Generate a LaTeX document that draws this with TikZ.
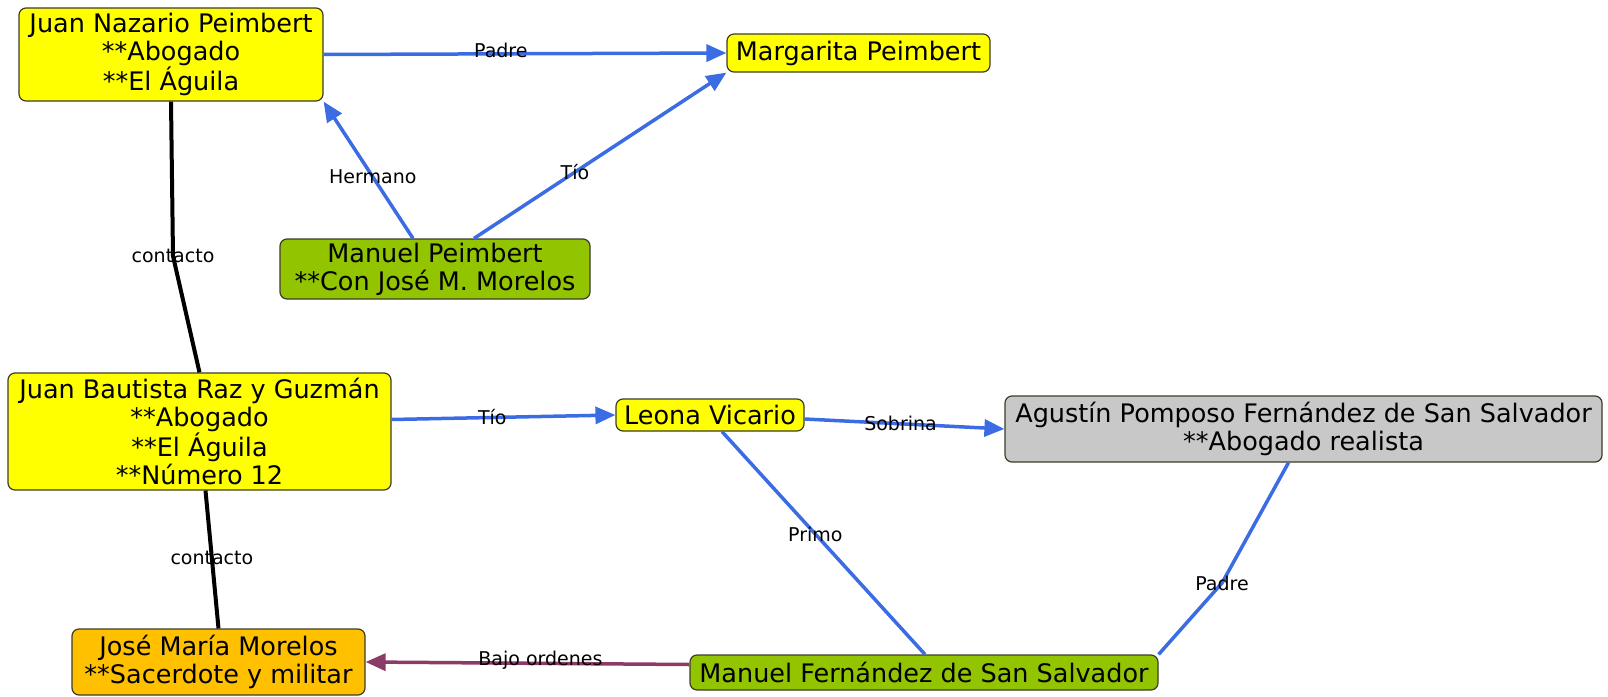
\documentclass[tikz,border=0pt]{standalone}
\usepackage{fontspec}
\setmainfont{DejaVu Sans}
\usetikzlibrary{arrows.meta}
\definecolor{relblue}{RGB}{59,108,228}
\definecolor{relmaroon}{RGB}{139,59,104}
\definecolor{boxyellow}{RGB}{255,255,0}
\definecolor{boxgreen}{RGB}{146,196,0}
\definecolor{boxorange}{RGB}{255,192,0}
\definecolor{boxgray}{RGB}{200,200,200}
\definecolor{boxline}{RGB}{60,60,40}
\tikzset{
  person/.style={draw=boxline, line width=1.2pt, rounded corners=7pt, inner sep=0pt,
    align=center, font=\fontsize{25.5}{28}\selectfont},
  ybox/.style={person, fill=boxyellow},
  gbox/.style={person, fill=boxgreen},
  obox/.style={person, fill=boxorange},
  greybox/.style={person, fill=boxgray},
  tip/.style={-{Triangle[length=20pt,width=17pt]}},
  rel/.style={draw=relblue, line width=3.5pt, line join=round},
  relarrow/.style={rel, tip},
  contact/.style={draw=black, line width=4pt, line join=round},
  order/.style={draw=relmaroon, line width=3.5pt, tip},
  lbl/.style={font=\fontsize{19}{22}\selectfont, inner sep=1pt, text=black}
}
\begin{document}
\begin{tikzpicture}[x=1pt,y=-1pt]
\useasboundingbox (0,0) rectangle (1608,696);

% people
\node[ybox, minimum width=304pt, minimum height=93pt] (jnp) at (171,54.5)
  {Juan Nazario Peimbert\\**Abogado\\**El Águila};
\node[ybox, minimum width=263pt, minimum height=38pt] (mar) at (858.5,53)
  {Margarita Peimbert};
\node[gbox, minimum width=310pt, minimum height=60pt] (mp) at (435,269)
  {Manuel Peimbert\\**Con José M. Morelos};
\node[ybox, minimum width=383pt, minimum height=117pt] (jb) at (199.5,431.5)
  {Juan Bautista Raz y Guzmán\\**Abogado\\**El Águila\\**Número 12};
\node[ybox, minimum width=188pt, minimum height=32pt] (lv) at (710,415)
  {Leona Vicario};
\node[greybox, minimum width=597pt, minimum height=66pt] (ag) at (1303.5,429)
  {Agustín Pomposo Fernández de San Salvador\\**Abogado realista};
\node[obox, minimum width=293pt, minimum height=66pt] (jm) at (218.5,662)
  {José María Morelos\\**Sacerdote y militar};
\node[gbox, minimum width=468pt, minimum height=35pt] (mf) at (924,672.5)
  {Manuel Fernández de San Salvador};

% bend points
\coordinate (c1) at (173,256);
\coordinate (c2) at (1222,583);

% relations
\draw[relarrow] (jnp.east) -- node[lbl, pos=0.44, yshift=3pt] {Padre} (mar.west);
\draw[relarrow] ([xshift=-22pt]mp.north) -- node[lbl, pos=0.45] {Hermano} (jnp.south east);
\draw[relarrow] ([xshift=39pt]mp.north) -- node[lbl, pos=0.4] {Tío} (mar.south west);
\draw[contact] (jnp.south) -- (c1) -- (jb.north);
\node[lbl] at (c1) {contacto};
\draw[relarrow] ([yshift=12pt]jb.east) -- node[lbl, pos=0.45] {Tío} (lv.west);
\draw[relarrow] ([yshift=-4pt]lv.east) -- node[lbl, pos=0.48] {Sobrina} (ag.west);
\draw[contact] ([xshift=6pt]jb.south) -- node[lbl, pos=0.49] {contacto} (jm.north);
\draw[rel] ([xshift=12pt]lv.south) -- node[lbl, pos=0.46] {Primo} ([xshift=1pt]mf.north);
\draw[rel] ([xshift=-15pt]ag.south) -- (c2) -- (mf.north east);
\node[lbl] at (c2) {Padre};
\draw[order] ([yshift=8pt]mf.west) -- node[lbl, pos=0.46, yshift=3pt] {Bajo ordenes} (jm.east);
\end{tikzpicture}
\end{document}
